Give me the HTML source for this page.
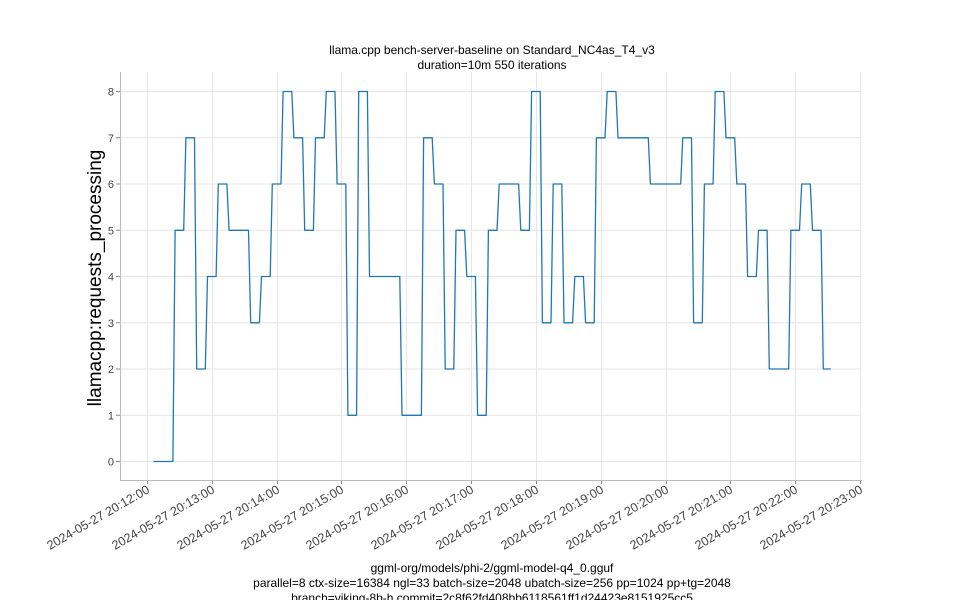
<!DOCTYPE html>
<html><head><meta charset="utf-8"><style>
body{margin:0;background:#fff;}
svg{display:block;font-family:"Liberation Sans","DejaVu Sans",sans-serif;}
</style></head><body>
<svg id="chart" width="960" height="600" viewBox="0 0 960 600">
<text x="492" y="54" text-anchor="middle" font-size="12" fill="#000">llama.cpp bench-server-baseline on Standard_NC4as_T4_v3</text>
<text x="492" y="69" text-anchor="middle" font-size="12" fill="#000">duration=10m 550 iterations</text>
<g id="grid"></g>
<g id="axes"></g>
<g id="series"></g>
<text transform="translate(101,278) rotate(-90)" text-anchor="middle" font-size="19" fill="#000">llamacpp:requests_processing</text>
<text x="492" y="572" text-anchor="middle" font-size="12" fill="#000">ggml-org/models/phi-2/ggml-model-q4_0.gguf</text>
<text x="492" y="587" text-anchor="middle" font-size="12" fill="#000">parallel=8 ctx-size=16384 ngl=33 batch-size=2048 ubatch-size=256 pp=1024 pp+tg=2048</text>
<text x="492" y="602" text-anchor="middle" font-size="12" fill="#000">branch=viking-8b-h commit=2c8f62fd408bb6118561ff1d24423e8151925cc5</text>
</svg>
<script>
// seconds after 20:12:00 for each plateau
const plateauStart = [6,26,36,46,56,66,76,96,106,116,126,136,146,156,166,176,186,196,206,236,256,266,276,286,296,306,316,326,346,356,366,376,386,396,406,416,426,436,466,496,506,516,526,536,546,556,566,576,596,606,616,626];
const plateauEnd   = [24,34,44,54,64,74,94,104,114,124,134,144,154,164,174,184,194,204,234,254,264,274,284,294,304,314,324,344,354,364,374,384,394,404,414,424,434,464,494,504,514,524,534,544,554,564,574,594,604,614,624,633];
const plateauValue = [0,5,7,2,4,6,5,3,4,6,8,7,5,7,8,6,1,8,4,1,7,6,2,5,4,1,5,6,5,8,3,6,3,4,3,7,8,7,6,7,3,6,8,7,6,4,5,2,5,6,5,2];
const yTicks = [0,1,2,3,4,5,6,7,8];
const xTickMinutes = [12,13,14,15,16,17,18,19,20,21,22,23];

const NS = "http://www.w3.org/2000/svg";
const L=120, R=862, T=72, B=480;
const xs = s => 147 + s*(713/660);
const ys = v => 461 - v*46.25;
function mk(tag, attrs, parent){const e=document.createElementNS(NS,tag);for(const k in attrs)e.setAttribute(k,attrs[k]);parent.appendChild(e);return e;}
const grid=document.getElementById('grid'), axes=document.getElementById('axes'), series=document.getElementById('series');

yTicks.forEach(v=>{
  const y=ys(v)+0.5;
  const g=mk('line',{x1:L,x2:R,y1:y,y2:y,stroke:'#e6e6e6','stroke-width':1},grid);
  
  
  const t=mk('line',{x1:L-4,x2:L,y1:y,y2:y,stroke:'#888','stroke-width':1},axes);
  
  
  const lb=mk('text',{x:L-6,y:y+4,'text-anchor':'end','font-size':11,fill:'#444'},axes);
  lb.textContent=v;
  
  
});
xTickMinutes.forEach(m=>{
  const x=Math.round(xs((m-12)*60))+0.5;
  const g=mk('line',{x1:x,x2:x,y1:T,y2:B,stroke:'#e6e6e6','stroke-width':1},grid);
  
  
  const t=mk('line',{x1:x,x2:x,y1:B,y2:B+4,stroke:'#888','stroke-width':1},axes);
  
  
  const lb=mk('text',{'text-anchor':'end','font-size':12.5,fill:'#444',transform:`translate(${x+3},${B+12}) rotate(-30)`},axes);
  lb.textContent='2024-05-27 20:'+m+':00';
  
  
});
const ls=mk('line',{x1:L+0.5,x2:L+0.5,y1:T,y2:B,stroke:'#bbb','stroke-width':1},axes);


const bs=mk('line',{x1:L,x2:R,y1:B+0.5,y2:B+0.5,stroke:'#bbb','stroke-width':1},axes);



let pts=[];
plateauValue.forEach((v,i)=>{
  pts.push(xs(plateauStart[i]).toFixed(1)+','+(ys(v)+0.5).toFixed(1));
  pts.push(xs(plateauEnd[i]).toFixed(1)+','+(ys(v)+0.5).toFixed(1));
});
const pl=mk('polyline',{points:pts.join(' '),fill:'none',stroke:'#1f77b4','stroke-width':1.3,'stroke-linejoin':'round'},series);


</script>
</body></html>
